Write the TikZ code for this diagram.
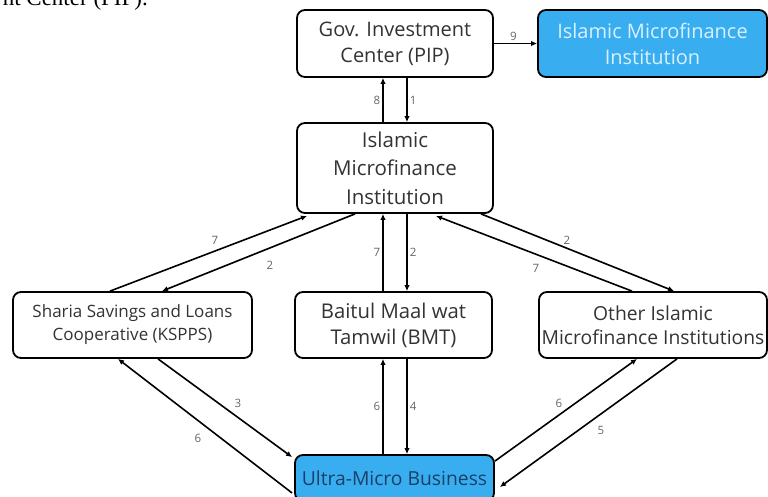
\documentclass[tikz,border=0pt]{standalone}
\usepackage{fontspec}
\setmainfont{Open Sans}
\newfontfamily\capfont{Liberation Serif}
\usetikzlibrary{arrows.meta}
\definecolor{boxblue}{HTML}{38AEF0}
\definecolor{txtgrey}{HTML}{333333}
\definecolor{numgrey}{HTML}{666666}
\definecolor{navy}{HTML}{1B3F66}
\definecolor{lightblue}{HTML}{D8F0FF}
\tikzset{
  card/.style={draw=black, line width=1.8pt, rounded corners=8pt, fill=white, inner sep=0pt, align=center, text=txtgrey},
  bluecard/.style={card, fill=boxblue},
  arr/.style={-{Latex[length=6pt,width=5.5pt]}, line width=1.6pt, draw=black},
  num/.style={font=\fontsize{11.5}{13}\selectfont, text=numgrey, inner sep=2pt},
}
\begin{document}
\begin{tikzpicture}[x=1pt,y=-1pt]
\useasboundingbox (0,0) rectangle (768,497);
\clip (0,0) rectangle (768,497);
\fill[white] (0,0) rectangle (768,497);

\node[anchor=base east, inner sep=0pt, font=\capfont\fontsize{23}{28}\selectfont] (cap) at (148,6) {nt Center (PIP).};

\node[card, minimum width=196pt, minimum height=67pt, font=\fontsize{20}{26}\selectfont] (pip) at (395,43.5) {Gov. Investment\\Center (PIP)};
\node[bluecard, minimum width=229pt, minimum height=67pt, text=lightblue, font=\fontsize{20}{26}\selectfont] (blue) at (652.5,43.5) {Islamic Microfinance\\Institution};
\node[card, minimum width=196pt, minimum height=90pt, font=\fontsize{20.5}{28.5}\selectfont] (cen) at (395,168) {Islamic\\Microfinance\\Institution};
\node[card, minimum width=239pt, minimum height=66pt, font=\fontsize{17}{23}\selectfont] (ksp) at (132.5,325) {Sharia Savings and Loans\\Cooperative (KSPPS)};
\node[card, minimum width=197pt, minimum height=66pt, font=\fontsize{20.3}{26}\selectfont] (bmt) at (393.5,325) {Baitul Maal wat\\Tamwil (BMT)};
\node[card, minimum width=228pt, minimum height=66pt, font=\fontsize{19.3}{24}\selectfont] (oth) at (653,325) {Other Islamic\\Microfinance Institutions};
\node[bluecard, minimum width=199pt, minimum height=46pt, text=navy, font=\fontsize{19.3}{22}\selectfont] (ult) at (394.5,478) {Ultra-Micro Business};

% top
\draw[arr] (pip.east) -- node[num, above, pos=0.45] {9} (blue.west);
\draw[arr] ([xshift=12pt]pip.south) -- node[num, right] {1} ([xshift=12pt]cen.north);
\draw[arr] ([xshift=-12pt]cen.north) -- node[num, left] {8} ([xshift=-12pt]pip.south);

% center to middle row
\draw[arr] ([xshift=-22.5pt]ksp.north) -- ([xshift=-88pt,yshift=-2pt]cen.south);
\node[num] (l7a) at (215,240) {7};
\draw[arr] ([xshift=-40pt]cen.south) -- ([xshift=29.5pt]ksp.north);
\node[num] (l2a) at (270,265) {2};
\draw[arr] ([xshift=-10.5pt]bmt.north) -- node[num, left] {7} ([xshift=-12pt]cen.south);
\draw[arr] ([xshift=12pt]cen.south) -- node[num, right] {2} ([xshift=13.5pt]bmt.north);
\draw[arr] ([xshift=-21pt]oth.north) -- ([xshift=41pt,yshift=-2pt]cen.south);
\node[num] (l7b) at (536,268) {7};
\draw[arr] ([xshift=86pt]cen.south) -- ([xshift=21pt]oth.north);
\node[num] (l2b) at (567,240) {2};

% middle row to ultra
\draw[arr] ([xshift=25.5pt]ksp.south) -- ([xshift=-2pt,yshift=-3pt]ult.north west);
\node[num] (l3) at (238,403) {3};
\draw[arr] ([xshift=-2pt,yshift=-15pt]ult.west) -- ([xshift=-14.5pt]ksp.south);
\node[num] (l6a) at (198,438) {6};
\draw[arr] ([xshift=-11.5pt]ult.north) -- node[num, left] {6} ([xshift=-10.5pt]bmt.south);
\draw[arr] ([xshift=13.5pt]bmt.south) -- node[num, right] {4} ([xshift=12.5pt]ult.north);
\draw[arr] ([yshift=-7pt]ult.north east) -- ([xshift=-16pt]oth.south);
\node[num] (l6b) at (559,403) {6};
\draw[arr] ([xshift=24pt]oth.south) -- ([xshift=5pt,yshift=-9pt]ult.east);
\node[num] (l5) at (601,430) {5};
\end{tikzpicture}
\end{document}
